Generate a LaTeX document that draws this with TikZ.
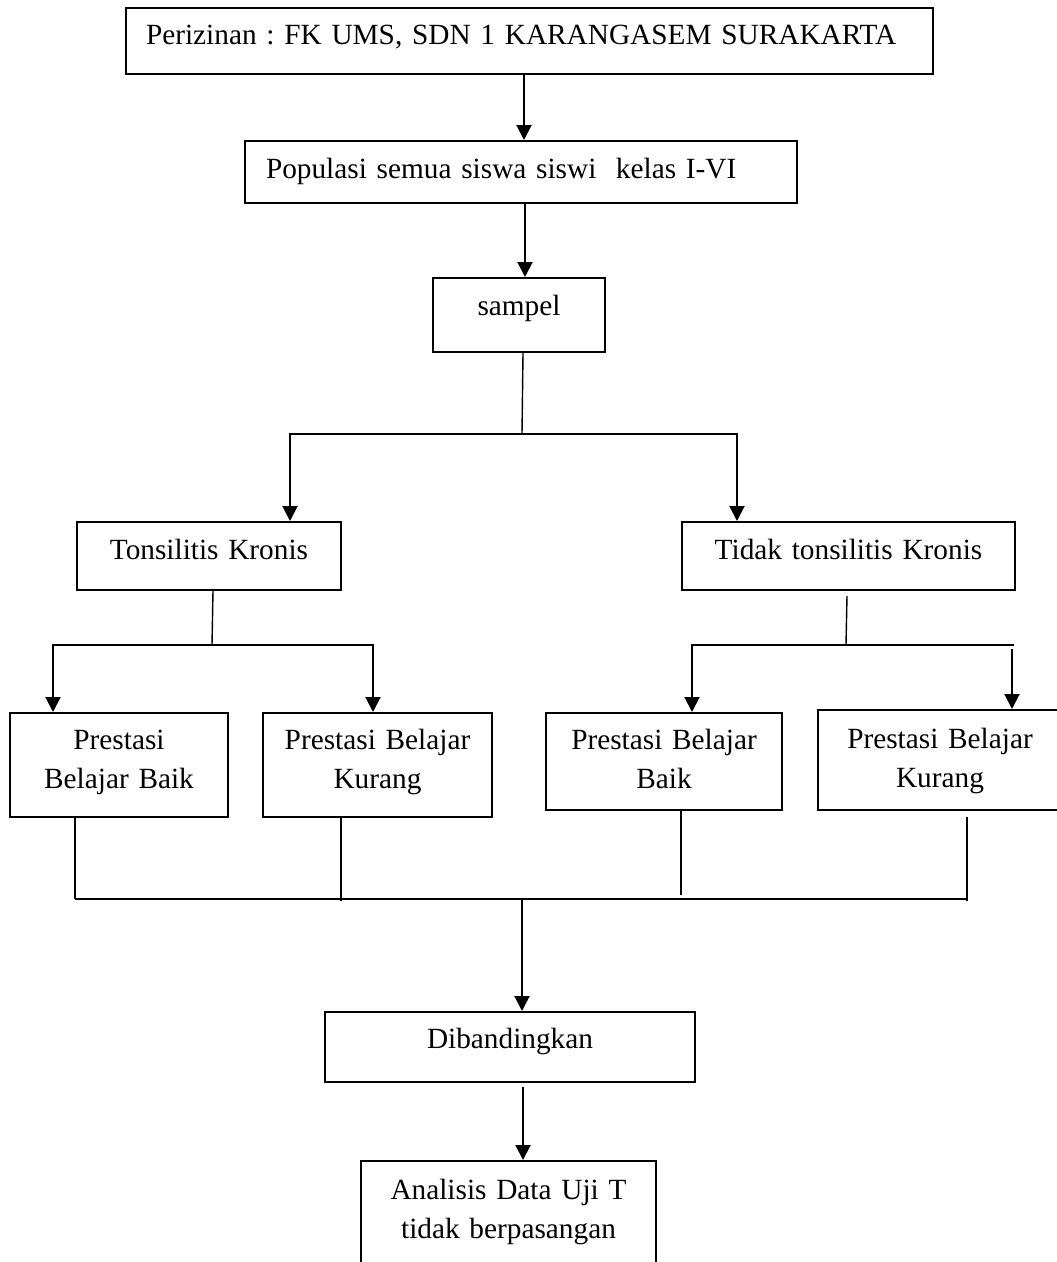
\documentclass[tikz,border=0pt]{standalone}
\usepackage{fontspec}
\setmainfont{Liberation Serif}
\usetikzlibrary{positioning}
\usetikzlibrary{arrows.meta}
\usetikzlibrary{calc}
\frenchspacing

\begin{document}
\begin{tikzpicture}[
        x=1pt, y=-1pt,
        box/.style={draw, line width=2pt, anchor=north west, inner xsep=0pt, inner ysep=0pt,
            align=center, font=\fontsize{29.3}{39}\selectfont},
        stem/.style={line width=1.4pt},
        link/.style={line width=2pt},
        arrow/.style={line width=2pt, -{Triangle[length=15pt,width=15pt]}}
    ]
    \useasboundingbox (0,0) rectangle (1057,1262);
    \clip (0,0) rectangle (1057,1262);
    \fill[white] (0,0) rectangle (1057,1262);

    % boxes
    \node[box, align=left, inner xsep=20pt, text width=767pt, text height=36pt, text depth=30pt] (izin) at (125,7) {Perizinan : FK UMS, SDN 1 KARANGASEM SURAKARTA};
    \node[box, align=left, inner xsep=21pt, text width=510pt, text height=37pt, text depth=25pt] (pop) at (244,140) {Populasi semua siswa siswi\ \ kelas I-VI};
    \node[box, text width=172pt, text height=37pt, text depth=37pt] (sampel) at (432,277) {sampel};
    \node[box, text width=264pt, text height=37pt, text depth=31pt] (tk) at (76,521) {Tonsilitis Kronis};
    \node[box, text width=333pt, text height=37pt, text depth=31pt] (ttk) at (681,521) {Tidak tonsilitis Kronis};
    \node[box, text width=218pt, text height=36pt, text depth=68pt] (pbb1) at (9,712) {Prestasi\\Belajar Baik};
    \node[box, text width=229pt, text height=36pt, text depth=68pt] (pbk1) at (262,712) {Prestasi Belajar\\Kurang};
    \node[box, text width=236pt, text height=36pt, text depth=61pt] (pbb2) at (545,712) {Prestasi Belajar\\Baik};
    \node[box, text width=244pt, text height=38pt, text depth=62pt] (pbk2) at (817,709) {Prestasi Belajar\\Kurang};
    \node[box, text width=370pt, text height=36pt, text depth=34pt] (dib) at (324,1011) {Dibandingkan};
    \node[box, text width=295pt, text height=38pt, text depth=130pt] (ana) at (360,1160) {Analisis Data Uji T\\tidak berpasangan};

    % junctions
    \coordinate (split) at (522,434);
    \coordinate (splitL) at (290,434);
    \coordinate (splitR) at (737,434);
    \coordinate (tkS) at (212,645);
    \coordinate (tkL) at (53,645);
    \coordinate (tkR) at (373,645);
    \coordinate (ttkS) at (846,645);
    \coordinate (ttkL) at (692,645);
    \coordinate (ttkR) at (1014,645);
    \coordinate (ttkA) at (1012,649);
    \coordinate (joinL) at (75,899);
    \coordinate (join) at (522,899);
    \coordinate (joinR) at (968,899);

    % connectors
    \draw[arrow] ([xshift=-5.5pt]izin.south) -- ([xshift=3pt]pop.north);
    \draw[arrow] ([xshift=4pt]pop.south) -- ([xshift=6pt]sampel.north);
    \draw[stem] ([xshift=4pt]sampel.south) -- (split);
    \draw[arrow] (splitR) -- (splitL) -- (splitL |- tk.north);
    \draw[arrow] (split) -- (splitR) -- (splitR |- ttk.north);

    \draw[stem] ([xshift=4pt]tk.south) -- (tkS);
    \draw[arrow] (tkS) -- (tkL) -- (tkL |- pbb1.north);
    \draw[arrow] (tkS) -- (tkR) -- (tkR |- pbk1.north);

    \draw[stem] ([xshift=-1.5pt,yshift=-5pt]ttk.south) -- (ttkS);
    \draw[arrow] (ttkS) -- (ttkL) -- (ttkL |- pbb2.north);
    \draw[link] (ttkS) -- (ttkR);
    \draw[arrow] (ttkA) -- (ttkA |- pbk2.north);

    \draw[stem] (pbb1.south -| joinL) -- (joinL);
    \draw[stem] ([xshift=-36.5pt]pbk1.south) -- +(0,83);
    \draw[stem] ([xshift=17pt]pbb2.south) -- +(0,84);
    \draw[stem] ([xshift=27pt,yshift=-6pt]pbk2.south) -- +(0,84);
    \draw[link] (joinL) -- (joinR);

    \draw[arrow] (join) -- (join |- dib.north);
    \draw[arrow] ([xshift=13pt,yshift=-4pt]dib.south) -- ([xshift=14.5pt]ana.north);
\end{tikzpicture}
\end{document}
